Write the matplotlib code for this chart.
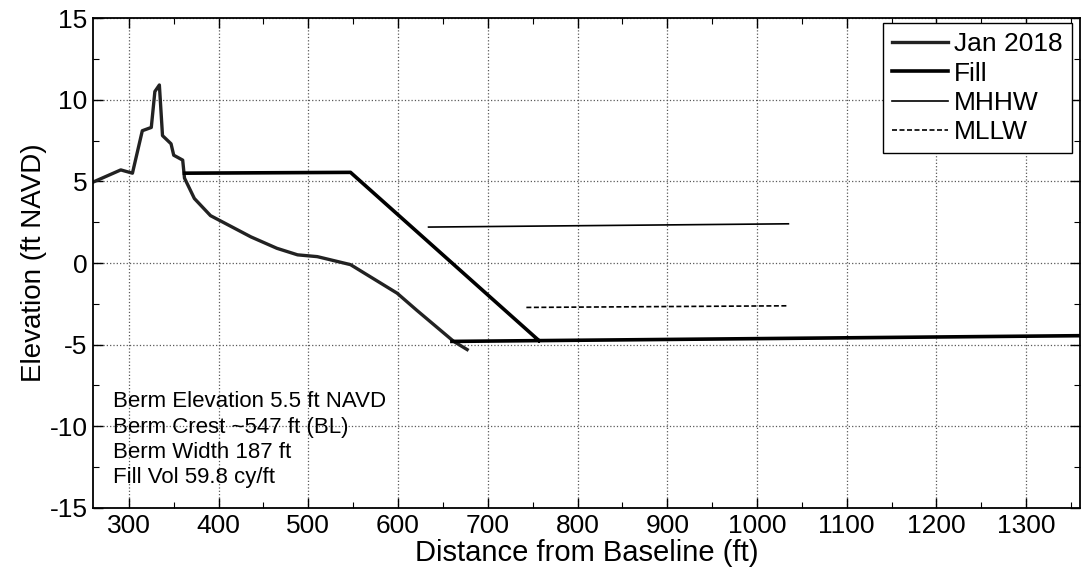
import numpy as np
import matplotlib
matplotlib.use("Agg")
import matplotlib.pyplot as plt
from matplotlib.ticker import MultipleLocator

plt.rcParams['font.family'] = ['Liberation Sans', 'DejaVu Sans']
plt.rcParams['axes.unicode_minus'] = False

# Jan 2018 surveyed profile
jan_x = [260, 291, 304, 315, 325, 329, 334, 337.5, 347, 350, 360, 362, 373, 391,
         436, 465, 488, 510, 547, 599, 621, 662, 677]
jan_y = [4.95, 5.7, 5.5, 8.1, 8.3, 10.5, 10.9, 7.8, 7.3, 6.6, 6.3, 5.2, 3.95, 2.9,
         1.6, 0.9, 0.5, 0.39, -0.1, -1.85, -2.9, -4.8, -5.3]

# Fill template (berm, slope, toe)
fill_x = [362, 547, 757, np.nan, 660, 1360]
fill_y = [5.5, 5.55, -4.75, np.nan, -4.8, -4.45]

# Tidal datums
mhhw_x = [634, 1035]
mhhw_y = [2.2, 2.4]
mllw_x = [743, 1035]
mllw_y = [-2.72, -2.62]

notes = ["Berm Elevation 5.5 ft NAVD", "Berm Crest ~547 ft (BL)",
         "Berm Width 187 ft", "Fill Vol 59.8 cy/ft"]
notes_y = [-8.82, -10.38, -11.94, -13.47]

fig = plt.figure(figsize=(10.86, 5.72), dpi=100)
ax = fig.add_axes([0.0856, 0.1119, 0.9089, 0.8566])

ax.plot(jan_x, jan_y, color='#222222', lw=2.4, label='Jan 2018')
ax.plot(fill_x, fill_y, color='black', lw=2.6, label='Fill')
ax.plot(mhhw_x, mhhw_y, color='black', lw=1.2, label='MHHW')
ax.plot(mllw_x, mllw_y, color='black', lw=1.2, ls=(0, (3, 1.5)), label='MLLW')

ax.set_xlim(260, 1360)
ax.set_ylim(-15, 15)
ax.xaxis.set_major_locator(MultipleLocator(100))
ax.xaxis.set_minor_locator(MultipleLocator(50))
ax.yaxis.set_major_locator(MultipleLocator(5))
ax.yaxis.set_minor_locator(MultipleLocator(2.5))
ax.tick_params(which='both', direction='in', top=True, right=True, labelsize=19, color='black')
ax.tick_params(which='major', length=7, width=1, pad=4)
ax.tick_params(which='minor', length=4, width=0.8)
ax.grid(True, which='major', ls=':', color='0.35', lw=0.9)
for s in ax.spines.values():
    s.set_linewidth(1.3)

ax.set_xlabel('Distance from Baseline (ft)', fontsize=21, labelpad=1)
ax.set_ylabel('Elevation (ft NAVD)', fontsize=20, labelpad=2)

for t, yv in zip(notes, notes_y):
    ax.text(282, yv, t, fontsize=16, va='baseline', ha='left')

leg = ax.legend(loc='upper right', bbox_to_anchor=(1 - 8 / 987, 1 - 5 / 490),
                fontsize=19, handlelength=2.1, labelspacing=0.2,
                borderaxespad=0, fancybox=False, framealpha=1, edgecolor='black',
                handletextpad=0.25, borderpad=0.35)
leg.get_frame().set_linewidth(1.0)

fig.savefig('out.png', dpi=100)
